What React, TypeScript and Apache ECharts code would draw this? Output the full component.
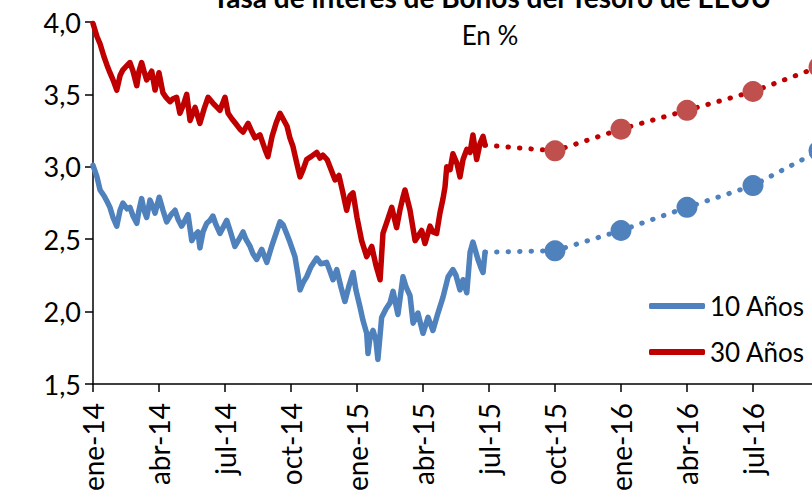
import React, { useEffect, useRef } from "react";
import * as echarts from "echarts";

// months since January 2014, yield in %
const bond10: [number, number][] = [
  [0, 3.01], [0.18, 2.93], [0.32, 2.84], [0.5, 2.8], [0.64, 2.76], [0.77, 2.72], [0.91, 2.65], [1.08, 2.59],
  [1.23, 2.7], [1.36, 2.75], [1.55, 2.71], [1.68, 2.72], [1.82, 2.66], [1.99, 2.61], [2.09, 2.7], [2.21, 2.78],
  [2.32, 2.7], [2.44, 2.65], [2.59, 2.77], [2.73, 2.72], [2.82, 2.68], [3.01, 2.79], [3.18, 2.7], [3.35, 2.62],
  [3.55, 2.67], [3.73, 2.7], [3.86, 2.64], [4.03, 2.59], [4.18, 2.63], [4.32, 2.67], [4.49, 2.49], [4.64, 2.53],
  [4.77, 2.55], [4.86, 2.44], [5.0, 2.55], [5.17, 2.61], [5.32, 2.63], [5.45, 2.66], [5.59, 2.6], [5.77, 2.54],
  [5.91, 2.58], [6.08, 2.63], [6.23, 2.56], [6.45, 2.45], [6.64, 2.5], [6.82, 2.55], [6.95, 2.5], [7.14, 2.45],
  [7.27, 2.4], [7.44, 2.36], [7.67, 2.43], [7.9, 2.34], [8.12, 2.45], [8.32, 2.54], [8.5, 2.62], [8.64, 2.6],
  [8.8, 2.54], [8.95, 2.48], [9.18, 2.38], [9.32, 2.25], [9.41, 2.15], [9.55, 2.2], [9.71, 2.24], [9.91, 2.31],
  [10.17, 2.37], [10.36, 2.33], [10.62, 2.34], [10.77, 2.28], [10.91, 2.22], [11.08, 2.29], [11.27, 2.17], [11.45, 2.07],
  [11.64, 2.18], [11.82, 2.27], [11.95, 2.15], [12.14, 2.03], [12.27, 1.94], [12.44, 1.85], [12.5, 1.71], [12.59, 1.82],
  [12.73, 1.87], [12.86, 1.8], [12.95, 1.67], [13.12, 1.96], [13.32, 2.02], [13.5, 2.06], [13.64, 2.14], [13.86, 1.98],
  [14.09, 2.24], [14.23, 2.17], [14.41, 2.11], [14.55, 1.92], [14.77, 1.99], [15.0, 1.85], [15.23, 1.96], [15.45, 1.87],
  [15.68, 1.99], [15.91, 2.1], [16.14, 2.24], [16.36, 2.29], [16.5, 2.25], [16.68, 2.15], [16.82, 2.22], [16.99, 2.13],
  [17.14, 2.41], [17.27, 2.48], [17.5, 2.36], [17.64, 2.3], [17.73, 2.27], [17.82, 2.41],
];

const bond30: [number, number][] = [
  [0, 3.99], [0.18, 3.9], [0.32, 3.85], [0.5, 3.76], [0.64, 3.7], [0.77, 3.65], [0.91, 3.6], [1.08, 3.53],
  [1.23, 3.63], [1.36, 3.67], [1.55, 3.7], [1.68, 3.72], [1.82, 3.66], [1.99, 3.56], [2.09, 3.66], [2.21, 3.72],
  [2.32, 3.66], [2.44, 3.6], [2.55, 3.63], [2.67, 3.66], [2.82, 3.53], [3.0, 3.65], [3.18, 3.51], [3.32, 3.48],
  [3.5, 3.45], [3.64, 3.47], [3.8, 3.48], [3.95, 3.37], [4.09, 3.42], [4.26, 3.5], [4.41, 3.32], [4.64, 3.41],
  [4.86, 3.3], [5.05, 3.4], [5.23, 3.48], [5.45, 3.44], [5.64, 3.41], [5.77, 3.39], [6.0, 3.48], [6.14, 3.37],
  [6.32, 3.33], [6.53, 3.29], [6.68, 3.26], [6.82, 3.24], [7.05, 3.3], [7.23, 3.24], [7.36, 3.2], [7.59, 3.22],
  [7.82, 3.12], [7.95, 3.07], [8.14, 3.21], [8.32, 3.3], [8.5, 3.37], [8.68, 3.32], [8.82, 3.28], [8.95, 3.2],
  [9.09, 3.14], [9.27, 3.02], [9.41, 2.93], [9.55, 2.98], [9.71, 3.05], [9.91, 3.07], [10.17, 3.1], [10.32, 3.06],
  [10.45, 3.08], [10.64, 3.05], [10.77, 3.0], [11.0, 2.91], [11.18, 2.94], [11.36, 2.82], [11.53, 2.7], [11.68, 2.8],
  [11.82, 2.82], [12.0, 2.65], [12.21, 2.49], [12.44, 2.38], [12.67, 2.45], [12.86, 2.32], [13.05, 2.22], [13.18, 2.54],
  [13.36, 2.62], [13.58, 2.72], [13.8, 2.58], [13.95, 2.7], [14.09, 2.79], [14.18, 2.84], [14.41, 2.7], [14.64, 2.49],
  [14.77, 2.52], [14.94, 2.56], [15.09, 2.47], [15.32, 2.59], [15.45, 2.55], [15.62, 2.54], [15.77, 2.68], [15.91, 2.78],
  [16.0, 2.86], [16.08, 3.0], [16.23, 2.98], [16.36, 3.09], [16.55, 3.02], [16.68, 2.93], [16.82, 3.05], [16.99, 3.12],
  [17.14, 3.1], [17.27, 3.22], [17.44, 3.05], [17.59, 3.16], [17.73, 3.21], [17.82, 3.15],
];

// projections: oct-15, ene-16, abr-16, jul-16, oct-16
const projMonths = [21, 24, 27, 30, 33];
const proj10 = [2.42, 2.56, 2.72, 2.87, 3.11];
const proj30 = [3.11, 3.26, 3.39, 3.52, 3.69];

const quarterNames = ["ene", "abr", "jul", "oct"];
const lastLabelMonth = 30; // jul-16 is the last label visible in the frame
const title = "Tasa de interés de Bonos del Tesoro de EEUU";
const subtitle = "En %";

const BLUE = "#4F81BD";
const RED = "#C00000";
const RED_MARK = "#C0504D";
const FONT = "Lato, 'Open Sans', sans-serif";

function projData(last: [number, number], values: number[]) {
  const out: any[] = [{ value: [last[0], last[1]], symbol: "none" }];
  values.forEach((v, i) => out.push({ value: [projMonths[i], v] }));
  return out;
}

export default function App() {
  const ref = useRef<HTMLDivElement>(null);
  useEffect(() => {
    if (!ref.current) return;
    const chart = echarts.init(ref.current, null, { renderer: "svg" });
    chart.setOption({
      animation: false,
      backgroundColor: "#fff",
      textStyle: { fontFamily: FONT },
      graphic: [
        {
          type: "text",
          x: 492,
          y: 11,
          style: {
            text: title,
            fontFamily: FONT,
            fontSize: 28,
            fontWeight: "bold",
            fill: "#000",
            align: "center",
            verticalAlign: "bottom",
          },
        },
        {
          type: "text",
          x: 490,
          y: 35,
          style: {
            text: subtitle,
            fontFamily: FONT,
            fontSize: 26,
            fill: "#000",
            align: "center",
            verticalAlign: "middle",
          },
        },
      ],
      legend: {
        data: ["10 Años", "30 Años"],
        orient: "vertical",
        left: 644,
        top: 288,
        itemWidth: 56,
        itemHeight: 6,
        itemGap: 20,
        icon: "roundRect",
        textStyle: { fontFamily: FONT, fontSize: 26, color: "#000" },
      },
      grid: { left: 93, top: 22, bottom: 118, width: 792 },
      xAxis: {
        type: "value",
        min: 0,
        max: 36,
        interval: 3,
        axisLine: { lineStyle: { color: "#000", width: 1.5 } },
        axisTick: { length: 8, lineStyle: { color: "#000", width: 1.5 } },
        splitLine: { show: false },
        axisLabel: {
          rotate: 90,
          margin: 19,
          fontFamily: FONT,
          fontSize: 28,
          color: "#000",
          formatter: (v: number) => {
            if (v > lastLabelMonth) return "";
            const q = Math.round(v / 3);
            return quarterNames[q % 4] + "-" + (14 + Math.floor(q / 4));
          },
        },
      },
      yAxis: {
        type: "value",
        min: 1.5,
        max: 4.0,
        interval: 0.5,
        axisLine: { show: true, lineStyle: { color: "#000", width: 1.5 } },
        axisTick: { show: true, length: 8, lineStyle: { color: "#000", width: 1.5 } },
        splitLine: { show: false },
        axisLabel: {
          margin: 12,
          fontFamily: FONT,
          fontSize: 27,
          color: "#000",
          formatter: (v: number) => v.toFixed(1).replace(".", ","),
        },
      },
      series: [
        {
          name: "Proy. 10 Años",
          type: "line",
          data: projData(bond10[bond10.length - 1], proj10),
          symbol: "circle",
          symbolSize: 21,
          itemStyle: { color: BLUE },
          lineStyle: { color: BLUE, width: 5, type: [0.5, 11], cap: "round" },
          z: 2,
        },
        {
          name: "Proy. 30 Años",
          type: "line",
          data: projData(bond30[bond30.length - 1], proj30),
          symbol: "circle",
          symbolSize: 21,
          itemStyle: { color: RED_MARK },
          lineStyle: { color: RED, width: 5, type: [0.5, 11], cap: "round" },
          z: 2,
        },
        {
          name: "10 Años",
          type: "line",
          data: bond10,
          showSymbol: false,
          symbol: "none",
          itemStyle: { color: BLUE },
          lineStyle: { color: BLUE, width: 5.5, join: "round", cap: "round" },
          z: 3,
        },
        {
          name: "30 Años",
          type: "line",
          data: bond30,
          showSymbol: false,
          symbol: "none",
          itemStyle: { color: RED },
          lineStyle: { color: RED, width: 5.5, join: "round", cap: "round" },
          z: 3,
        },
      ],
    });
    return () => chart.dispose();
  }, []);
  return (
    <div
      style={{
        position: "fixed",
        left: 0,
        top: 0,
        width: 812,
        height: 502,
        overflow: "hidden",
        background: "#fff",
      }}
    >
      <div ref={ref} style={{ width: 900, height: 502 }} />
    </div>
  );
}
